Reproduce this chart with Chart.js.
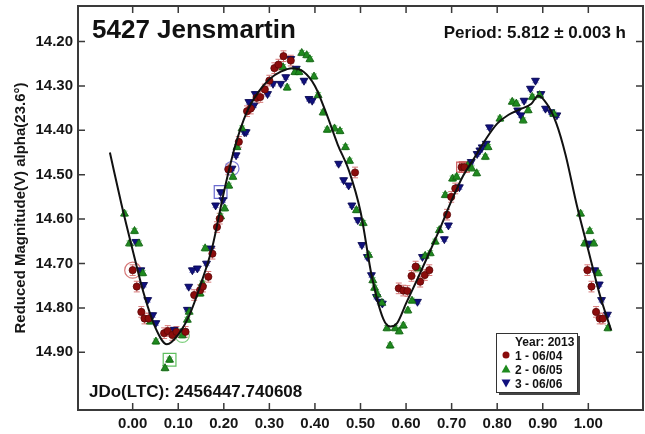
<!DOCTYPE html>
<html>
<head>
<meta charset="utf-8">
<script src="https://cdn.jsdelivr.net/npm/chart.js@4.4.0/dist/chart.umd.min.js"></script>
<style>
  html, body { margin: 0; padding: 0; background: #fff; }
  #wrap { width: 645px; height: 434px; }
</style>
</head>
<body>
<div id="wrap"><canvas id="myChart" width="645" height="434"></canvas></div>
<script>
// tick labels
var xTicks = [0.00, 0.10, 0.20, 0.30, 0.40, 0.50, 0.60, 0.70, 0.80, 0.90, 1.00];
var yTicks = [14.20, 14.30, 14.40, 14.50, 14.60, 14.70, 14.80, 14.90];

// fitted lightcurve
var curvePhase = [-0.05, -0.025, 0.00, 0.025, 0.05, 0.075, 0.10, 0.125, 0.15, 0.175, 0.20, 0.225, 0.25, 0.275, 0.30,
  0.325, 0.35, 0.375, 0.40, 0.425, 0.45, 0.475, 0.50, 0.525, 0.55, 0.565, 0.58, 0.60, 0.625, 0.65, 0.675,
  0.70, 0.725, 0.75, 0.775, 0.80, 0.825, 0.85, 0.875, 0.89, 0.91, 0.93, 0.95, 0.975, 1.00, 1.025, 1.05];
var curveMag = [14.45, 14.565, 14.67, 14.77, 14.845, 14.882, 14.86, 14.815, 14.745, 14.662, 14.54, 14.435, 14.36, 14.315, 14.285,
  14.268, 14.26, 14.268, 14.30, 14.362, 14.432, 14.492, 14.583, 14.73, 14.825, 14.842, 14.835, 14.79, 14.735, 14.678, 14.62,
  14.558, 14.503, 14.462, 14.42, 14.385, 14.365, 14.353, 14.34, 14.322, 14.342, 14.385, 14.455, 14.57, 14.67, 14.77, 14.85];

// 1 - 06/04
var redPhase = [0.000, 0.009, 0.019, 0.026, 0.035, 0.069, 0.077, 0.087, 0.096, 0.116, 0.135, 0.148, 0.154, 0.166, 0.175,
  0.185, 0.191, 0.210, 0.233, 0.251, 0.259, 0.272, 0.280, 0.290, 0.300, 0.311, 0.320, 0.331, 0.347, 0.488,
  0.584, 0.594, 0.603, 0.612, 0.621, 0.631, 0.641, 0.651, 0.690, 0.699, 0.708, 0.722, 0.728,
  0.998, 1.007, 1.017, 1.025, 1.032];
var redMag = [14.715, 14.752, 14.809, 14.824, 14.824, 14.857, 14.852, 14.861, 14.854, 14.854, 14.771, 14.760, 14.752, 14.730, 14.678,
  14.618, 14.599, 14.488, 14.426, 14.357, 14.351, 14.327, 14.325, 14.308, 14.288, 14.260, 14.252, 14.233, 14.243, 14.495,
  14.756, 14.761, 14.762, 14.728, 14.707, 14.741, 14.726, 14.715, 14.590, 14.550, 14.531, 14.483, 14.483,
  14.715, 14.752, 14.809, 14.824, 14.824];

// 2 - 06/05
var greenPhase = [-0.018, -0.007, 0.004, 0.0135, 0.022, 0.039, 0.051, 0.071, 0.081, 0.109, 0.120, 0.124, 0.148, 0.153, 0.159,
  0.193, 0.202, 0.211, 0.220, 0.229, 0.240, 0.330, 0.339, 0.356, 0.365, 0.371, 0.382, 0.389, 0.398, 0.407,
  0.418, 0.427, 0.443, 0.455, 0.467, 0.476, 0.491, 0.506, 0.518, 0.527, 0.531, 0.537, 0.547, 0.558, 0.565,
  0.576, 0.585, 0.594, 0.604, 0.613, 0.627, 0.642, 0.653, 0.664, 0.673, 0.686, 0.702, 0.711, 0.735, 0.744,
  0.755, 0.774, 0.780, 0.806, 0.833, 0.842, 0.857, 0.868, 0.877, 0.893, 0.924, 0.983, 0.992, 1.003, 1.012,
  1.022, 1.043];
var greenMag = [14.588, 14.655, 14.627, 14.655, 14.722, 14.831, 14.876, 14.936, 14.917, 14.862, 14.827, 14.809, 14.768, 14.745, 14.666,
  14.594, 14.576, 14.525, 14.505, 14.438, 14.396, 14.258, 14.304, 14.269, 14.269, 14.226, 14.231, 14.240, 14.279, 14.321,
  14.360, 14.399, 14.396, 14.402, 14.438, 14.469, 14.580, 14.609, 14.681, 14.738, 14.755, 14.770, 14.789, 14.846, 14.885,
  14.846, 14.853, 14.840, 14.806, 14.784, 14.711, 14.683, 14.677, 14.651, 14.625, 14.546, 14.509, 14.505, 14.480, 14.486,
  14.497, 14.460, 14.438, 14.374, 14.336, 14.340, 14.378, 14.355, 14.325, 14.321, 14.363, 14.588, 14.655, 14.627, 14.655,
  14.722, 14.846];

// 3 - 06/06
var navyPhase = [0.007, 0.018, 0.024, 0.033, 0.044, 0.051, 0.091, 0.113, 0.120, 0.123, 0.131, 0.142, 0.162, 0.172, 0.182,
  0.193, 0.198, 0.218, 0.227, 0.245, 0.249, 0.255, 0.266, 0.269, 0.296, 0.308, 0.325, 0.336, 0.347, 0.359,
  0.376, 0.387, 0.394, 0.452, 0.463, 0.474, 0.481, 0.494, 0.503, 0.515, 0.524, 0.535, 0.542, 0.548, 0.625,
  0.636, 0.684, 0.693, 0.717, 0.743, 0.756, 0.762, 0.767, 0.776, 0.783, 0.845, 0.852, 0.859, 0.873, 0.884,
  0.896, 0.906, 0.918, 0.931, 1.001, 1.014, 1.024, 1.029, 1.042];
var navyMag = [14.651, 14.715, 14.748, 14.782, 14.816, 14.834, 14.849, 14.853, 14.804, 14.752, 14.715, 14.711, 14.700, 14.666, 14.569,
  14.539, 14.557, 14.486, 14.456, 14.404, 14.404, 14.336, 14.344, 14.318, 14.318, 14.295, 14.295, 14.280, 14.239, 14.261,
  14.288, 14.329, 14.333, 14.475, 14.512, 14.524, 14.569, 14.602, 14.658, 14.685, 14.726, 14.775, 14.786, 14.790, 14.786,
  14.685, 14.645, 14.614, 14.528, 14.471, 14.453, 14.445, 14.438, 14.430, 14.393, 14.355, 14.366, 14.333, 14.306, 14.288,
  14.318, 14.351, 14.359, 14.366, 14.655, 14.715, 14.747, 14.782, 14.815];

// error bar half-lengths (mag)
var redErr = 0.012, greenErr = 0.006, navyErr = 0.005;

// session start markers
var ringPhase = [0.000, 0.109, 0.218];
var ringMag = [14.715, 14.862, 14.486];
var boxPhase = [0.081, 0.193, 0.722, 0.728];
var boxMag = [14.917, 14.539, 14.483, 14.483];

var legendLabels = ['1 - 06/04', '2 - 06/05', '3 - 06/06'];

function pts(px, py) {
  return px.map(function (v, i) { return {x: v, y: py[i]}; });
}

Chart.defaults.font.family = '"Liberation Sans", Arial, sans-serif';
Chart.defaults.color = '#161616';

var RED = '#8a0c0c', GREEN = '#1e8a1e', NAVY = '#10107e';

var decor = {
  id: 'decor',
  beforeDatasetsDraw: function (chart) {
    var c = chart.ctx, ys = chart.scales.y;
    var sets = [[1, redErr, '#d77a7a'], [2, greenErr, '#7fd07f'], [3, navyErr, '#8484d8']];
    c.save();
    c.lineWidth = 1;
    sets.forEach(function (s) {
      var meta = chart.getDatasetMeta(s[0]);
      var ds = chart.data.datasets[s[0]].data;
      c.strokeStyle = s[2];
      meta.data.forEach(function (el, i) {
        var y1 = ys.getPixelForValue(ds[i].y - s[1]);
        var y2 = ys.getPixelForValue(ds[i].y + s[1]);
        c.beginPath();
        c.moveTo(el.x, y1); c.lineTo(el.x, y2);
        c.moveTo(el.x - 3, y1); c.lineTo(el.x + 3, y1);
        c.moveTo(el.x - 3, y2); c.lineTo(el.x + 3, y2);
        c.stroke();
      });
    });
    c.restore();
  },
  afterDraw: function (chart) {
    var c = chart.ctx, a = chart.chartArea;
    var xs = chart.scales.x, ys = chart.scales.y;
    c.save();
    // frame
    c.strokeStyle = '#3a3a3a';
    c.lineWidth = 2;
    c.strokeRect(a.left, a.top, a.right - a.left, a.bottom - a.top);
    // inward ticks
    c.lineWidth = 1.5;
    c.beginPath();
    xTicks.forEach(function (v) {
      var x = xs.getPixelForValue(v);
      c.moveTo(x, a.bottom); c.lineTo(x, a.bottom - 7);
      c.moveTo(x, a.top); c.lineTo(x, a.top + 7);
    });
    yTicks.forEach(function (v) {
      var y = ys.getPixelForValue(v);
      c.moveTo(a.left, y); c.lineTo(a.left + 7, y);
      c.moveTo(a.right, y); c.lineTo(a.right - 7, y);
    });
    c.stroke();

    // texts
    c.fillStyle = '#111';
    c.textBaseline = 'alphabetic';
    c.textAlign = 'left';
    c.font = 'bold 26px "Liberation Sans", Arial, sans-serif';
    c.fillText('5427 Jensmartin', 92, 38);
    c.textAlign = 'right';
    c.font = 'bold 17px "Liberation Sans", Arial, sans-serif';
    c.fillText('Period: 5.812 \u00b1 0.003 h', 626, 38);
    c.textAlign = 'left';
    c.fillText('JDo(LTC): 2456447.740608', 89, 397);

    // legend box
    var lx = 496, ly = 333, lw = 81, lh = 59;
    c.fillStyle = '#444';
    c.fillRect(lx + 3, ly + 3, lw, lh);
    c.fillStyle = '#fff';
    c.fillRect(lx, ly, lw, lh);
    c.strokeStyle = '#333';
    c.lineWidth = 1;
    c.strokeRect(lx + 0.5, ly + 0.5, lw, lh);
    c.fillStyle = '#111';
    c.font = 'bold 12px "Liberation Sans", Arial, sans-serif';
    c.textAlign = 'left';
    c.fillText('Year: 2013', 515, 346);
    var cols = [RED, GREEN, NAVY];
    legendLabels.forEach(function (t, i) {
      var cy = 355 + i * 14;
      c.fillStyle = cols[i];
      c.beginPath();
      if (i === 0) {
        c.arc(506, cy, 3.5, 0, Math.PI * 2);
      } else if (i === 1) {
        c.moveTo(506, cy - 4.5); c.lineTo(510.5, cy + 3.5); c.lineTo(501.5, cy + 3.5); c.closePath();
      } else {
        c.moveTo(506, cy + 4.5); c.lineTo(510.5, cy - 3.5); c.lineTo(501.5, cy - 3.5); c.closePath();
      }
      c.fill();
      c.fillStyle = '#111';
      c.fillText(t, 515, cy + 4.5);
    });
    c.restore();
  }
};

var contx = document.getElementById('myChart').getContext('2d');
var myChart = new Chart(contx, {
  type: 'scatter',
  data: {
    datasets: [{
      type: 'line',
      label: 'fit',
      data: pts(curvePhase, curveMag),
      borderColor: '#111',
      borderWidth: 2,
      pointRadius: 0,
      fill: false,
      cubicInterpolationMode: 'monotone'
    }, {
      label: '1 - 06/04',
      data: pts(redPhase, redMag),
      pointStyle: 'circle',
      pointRadius: 3.6,
      backgroundColor: RED,
      borderColor: '#5c0606',
      borderWidth: 0.8
    }, {
      label: '2 - 06/05',
      data: pts(greenPhase, greenMag),
      pointStyle: 'triangle',
      pointRadius: 4.6,
      backgroundColor: GREEN,
      borderColor: '#0f5c0f',
      borderWidth: 0.8
    }, {
      label: '3 - 06/06',
      data: pts(navyPhase, navyMag),
      pointStyle: 'triangle',
      rotation: 180,
      pointRadius: 4.6,
      backgroundColor: NAVY,
      borderColor: '#06064a',
      borderWidth: 0.8
    }, {
      label: 'rings',
      data: pts(ringPhase, ringMag),
      pointStyle: 'circle',
      pointRadius: [8, 7, 7],
      backgroundColor: 'rgba(0,0,0,0)',
      borderColor: ['#d77a7a', '#7fd07f', '#7d7dd6'],
      borderWidth: 1.2
    }, {
      label: 'boxes',
      data: pts(boxPhase, boxMag),
      pointStyle: 'rect',
      pointRadius: [9, 9, 7, 7],
      backgroundColor: 'rgba(0,0,0,0)',
      borderColor: ['#5fbf5f', '#6b6bd0', '#cc5a5a', '#cc5a5a'],
      borderWidth: 1.2
    }]
  },
  options: {
    responsive: false,
    animation: false,
    layout: { autoPadding: false, padding: { top: 6, right: 2, left: 0, bottom: 0 } },
    scales: {
      x: {
        type: 'linear',
        min: -0.12,
        max: 1.12,
        afterBuildTicks: function (s) { s.ticks = xTicks.map(function (v) { return {value: v}; }); },
        afterFit: function (s) { s.height = 24; s.paddingLeft = 0; s.paddingRight = 0; },
        grid: { display: false, drawTicks: false },
        border: { display: false },
        ticks: {
          padding: 5,
          maxRotation: 0,
          autoSkip: false,
          font: { size: 15, weight: 'bold' },
          callback: function (v) { return Number(v).toFixed(2); }
        }
      },
      y: {
        type: 'linear',
        reverse: true,
        min: 14.12,
        max: 15.03,
        afterBuildTicks: function (s) { s.ticks = yTicks.map(function (v) { return {value: v}; }); },
        afterFit: function (s) { s.width = 78; s.paddingTop = 0; s.paddingBottom = 0; },
        grid: { display: false, drawTicks: false },
        border: { display: false },
        title: {
          display: true,
          text: 'Reduced Magnitude(V) alpha(23.6\u00b0)',
          font: { size: 15, weight: 'bold' },
          padding: { top: 12, bottom: 0 }
        },
        ticks: {
          padding: 5,
          autoSkip: false,
          font: { size: 15, weight: 'bold' },
          callback: function (v) { return Number(v).toFixed(2); }
        }
      }
    },
    plugins: {
      legend: { display: false },
      tooltip: { enabled: false }
    }
  },
  plugins: [decor]
});
</script>
</body>
</html>
